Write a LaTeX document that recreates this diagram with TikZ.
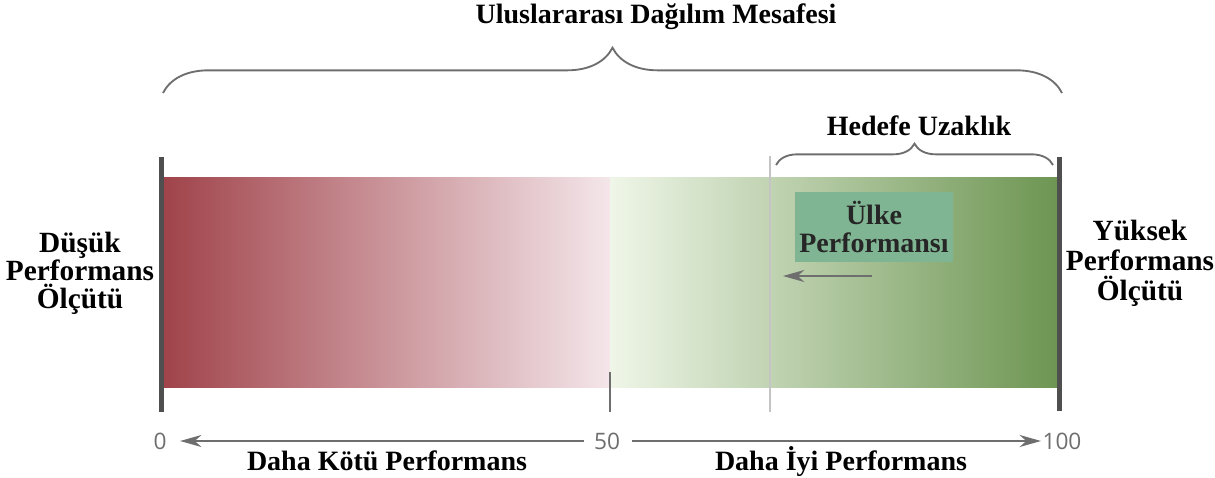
\documentclass[tikz,border=0pt]{standalone}
\usepackage{fontspec}
\setmainfont{Liberation Serif}
\newfontfamily\numfont{Open Sans}
\usetikzlibrary{arrows.meta,decorations.pathreplacing,positioning}
\definecolor{BarRed}{HTML}{A0434A}
\definecolor{BarPink}{HTML}{F4E6EA}
\definecolor{BarPale}{HTML}{EFF6E8}
\definecolor{BarGreen}{HTML}{6D9552}
\definecolor{BoxGreen}{HTML}{80B593}
\definecolor{EdgeGray}{HTML}{4F4F4F}
\definecolor{AxisGray}{HTML}{6E6E6E}
\definecolor{GuideGray}{HTML}{C4C4C4}

\begin{document}
\begin{tikzpicture}[x=0.75pt,y=-0.75pt,>={Stealth[length=16pt,width=9pt,inset=5pt]},
  lbl/.style={font=\bfseries\fontsize{21}{21.5}\selectfont,align=center,inner sep=0pt},
  num/.style={font=\numfont\fontsize{17}{18}\selectfont,text=AxisGray,inner sep=0pt},
  brc/.style={decorate,decoration={brace,amplitude=#1},draw=AxisGray,line width=1.4pt}]
  \useasboundingbox (0,0) rectangle (1215,478);
  % colour bar
  \shade[left color=BarRed,right color=BarPink] (163,177) rectangle (610,387);
  \shade[left color=BarPale,right color=BarGreen] (610,177) rectangle (1058,387);
  \draw[GuideGray,line width=2pt] (770,156)--(770,412);
  \draw[EdgeGray,line width=3.75pt] (161,157)--(161,412);
  \draw[EdgeGray,line width=3.75pt] (1059,157)--(1059,411);
  \draw[AxisGray,line width=2.2pt] (610,372)--(610,412);
  % end labels
  \node[lbl,font=\bfseries\fontsize{22}{21}\selectfont] (low) at (80,273) {Düşük\\Performans\\Ölçütü};
  \node[lbl,font=\bfseries\fontsize{22}{22.5}\selectfont] (high) at (1140,263) {Yüksek\\Performans\\Ölçütü};
  % braces
  \coordinate (bl) at (163,93);
  \coordinate (br) at (1062,93);
  \draw[brc=34pt] (bl) -- (br);
  \node[lbl] (title) at (656,17) {Uluslararası Dağılım Mesafesi};
  \coordinate (hl) at (776,165);
  \coordinate (hr) at (1053,165);
  \draw[brc=16pt] (hl) -- (hr);
  \node[lbl] (gap) at (919,126) {Hedefe Uzaklık};
  % country box
  \node[lbl,fill=BoxGreen,text=black!85,minimum width=119pt,minimum height=52pt] (country) at (874,227) {Ülke\\Performansı};
  \coordinate (pa) at (872,276);
  \coordinate (pb) at (783,276);
  \draw[->,AxisGray,line width=1.5pt] (pa) -- (pb);
  % axis
  \node[num] (n0) at (160,441) {0};
  \node[num] (n50) at (607,441) {50};
  \node[num] (n100) at (1062,441) {100};
  \draw[->,AxisGray,line width=1.5pt,shorten <=7pt,shorten >=10pt] (n50.west) -- (n0.east);
  \draw[->,AxisGray,line width=1.5pt,shorten <=9pt,shorten >=1pt] (n50.east) -- (n100.west);
  \node[lbl,anchor=base] (worse) at (387,470) {Daha Kötü Performans};
  \node[lbl,anchor=base] (better) at (841,470) {Daha İyi Performans};
\end{tikzpicture}
\end{document}
